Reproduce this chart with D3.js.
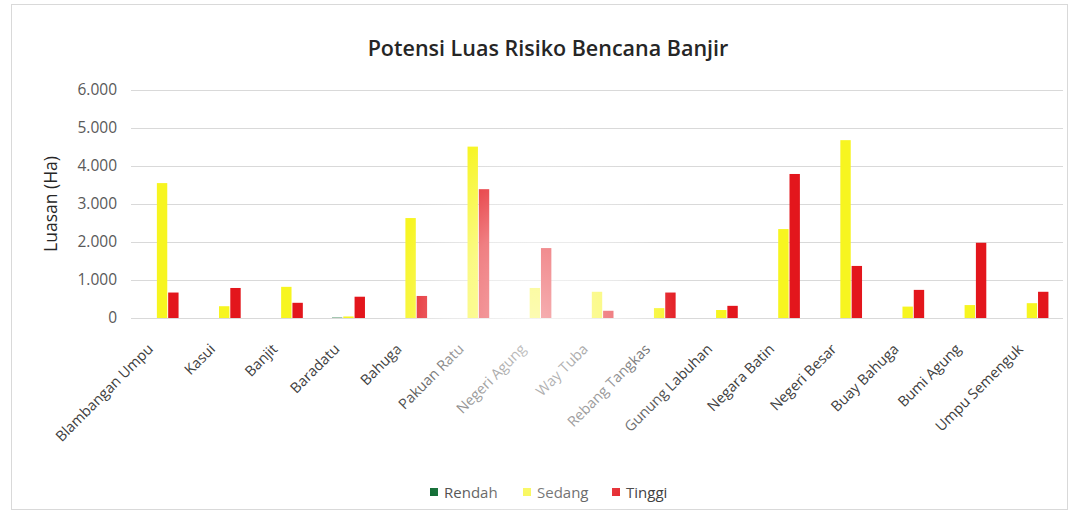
<!DOCTYPE html>
<html>
<head>
<meta charset="utf-8">
<script src="https://cdn.jsdelivr.net/npm/d3@7/dist/d3.min.js"></script>
<style>
  html, body { margin: 0; padding: 0; background: #fff; }
  svg { display: block; }
  svg text { font-family: "Open Sans", "Liberation Sans", sans-serif; }
</style>
</head>
<body>
<svg id="chart" width="1079" height="513"></svg>
<script>
// Kecamatan (districts)
const categories = [
  "Blambangan Umpu", "Kasui", "Banjit", "Baradatu", "Bahuga", "Pakuan Ratu",
  "Negeri Agung", "Way Tuba", "Rebang Tangkas", "Gunung Labuhan", "Negara Batin",
  "Negeri Besar", "Buay Bahuga", "Bumi Agung", "Umpu Semenguk"
];
// Risk classes
const seriesNames = ["Rendah", "Sedang", "Tinggi"];
// Area per class (Ha)
const rendah = [0, 0, 0, 10, 0, 0, 0, 0, 0, 0, 0, 0, 0, 0, 0];
const sedang = [3550, 310, 820, 40, 2630, 4510, 790, 690, 260, 210, 2340, 4680, 300, 340, 390];
const tinggi = [670, 790, 400, 560, 580, 3390, 1840, 190, 670, 320, 3790, 1370, 740, 1980, 690];
const yTicks = [0, 1000, 2000, 3000, 4000, 5000, 6000];

const colors = { Rendah: "#0e6b32", Sedang: "#f7f520", Tinggi: "#e3161c" };
const seriesValues = { Rendah: rendah, Sedang: sedang, Tinggi: tinggi };

const svg = d3.select("#chart");
const plot = { left: 131, right: 1063, top: 90, bottom: 318 };

// chart frame
svg.append("rect")
  .attr("x", 11.5).attr("y", 4.5).attr("width", 1056).attr("height", 505)
  .attr("fill", "#fff").attr("stroke", "#d9d9d9");

const x0 = d3.scaleBand().domain(categories).range([plot.left, plot.right]).paddingInner(0.44).paddingOuter(0.22);
const x1 = d3.scaleBand().domain(seriesNames).range([0, x0.bandwidth()]).padding(0.08);
const y = d3.scaleLinear().domain([0, 6000]).range([plot.bottom, plot.top]);

const fmt = v => v === 0 ? "0" : d3.format(",")(v).replace(/,/g, ".");

// gridlines
svg.append("g").selectAll("line").data(yTicks.filter(t => t > 0)).join("line")
  .attr("x1", plot.left).attr("x2", plot.right)
  .attr("y1", d => Math.round(y(d)) + 0.5).attr("y2", d => Math.round(y(d)) + 0.5)
  .attr("stroke", "#d9d9d9").attr("stroke-width", 1);

// y axis labels
const yAxis = d3.axisLeft(y).tickValues(yTicks).tickFormat(fmt).tickSize(0).tickPadding(0);
const gy = svg.append("g").attr("transform", `translate(${plot.left - 14},0)`).call(yAxis)
  .attr("font-family", null);
gy.select(".domain").remove();
gy.selectAll("text").attr("font-size", 15.5).attr("fill", "#595959");

// y axis title
svg.append("text")
  .attr("transform", `translate(57,204) rotate(-90)`)
  .attr("text-anchor", "middle").attr("font-size", 17.5).attr("fill", "#262626")
  .text("Luasan (Ha)");

// bars
const groups = svg.append("g").selectAll("g").data(categories).join("g")
  .attr("transform", d => `translate(${x0(d)},0)`);
groups.selectAll("rect")
  .data((d, i) => seriesNames.map(s => ({ s, v: seriesValues[s][i] })))
  .join("rect")
  .attr("x", d => x1(d.s)).attr("width", x1.bandwidth())
  .attr("y", d => y(d.v)).attr("height", d => y(0) - y(d.v))
  .attr("fill", d => colors[d.s]);

// baseline
svg.append("line")
  .attr("x1", plot.left).attr("x2", plot.right)
  .attr("y1", plot.bottom + 0.5).attr("y2", plot.bottom + 0.5)
  .attr("stroke", "#d9d9d9");

// x axis labels, rotated
const xAxis = d3.axisBottom(x0).tickSize(0).tickPadding(0);
const gx = svg.append("g").attr("transform", `translate(0,${plot.bottom})`).call(xAxis)
  .attr("font-family", null);
gx.select(".domain").remove();
gx.selectAll("text")
  .attr("font-size", 14.5).attr("fill", "#404040")
  .attr("text-anchor", "end")
  .attr("dy", 0).attr("y", 0).attr("x", 0)
  .attr("transform", "translate(-8,32) rotate(-45)");

// title
svg.append("text")
  .attr("x", 548).attr("y", 56).attr("text-anchor", "middle")
  .attr("font-size", 21.5).attr("font-weight", 600).attr("fill", "#262626")
  .text("Potensi Luas Risiko Bencana Banjir");

// legend
const legendX = [430, 523, 612];
const lg = svg.append("g").selectAll("g").data(seriesNames).join("g")
  .attr("transform", (d, i) => `translate(${legendX[i]},492)`);
lg.append("rect").attr("x", 0).attr("y", -4).attr("width", 8).attr("height", 8)
  .attr("fill", d => colors[d]);
lg.append("text").attr("x", 14).attr("y", 5.5).attr("font-size", 15).attr("fill", "#404040")
  .text(d => d);

// light glare across the middle of the sheet
const defs = svg.append("defs");
const glare = defs.append("radialGradient").attr("id", "glare")
  .attr("cx", "50%").attr("cy", "50%").attr("r", "50%");
glare.append("stop").attr("offset", "0%").attr("stop-color", "#fff").attr("stop-opacity", 0.7);
glare.append("stop").attr("offset", "55%").attr("stop-color", "#fff").attr("stop-opacity", 0.45);
glare.append("stop").attr("offset", "100%").attr("stop-color", "#fff").attr("stop-opacity", 0);
svg.append("ellipse")
  .attr("cx", 535).attr("cy", 340).attr("rx", 150).attr("ry", 220)
  .attr("fill", "url(#glare)").attr("pointer-events", "none");
</script>
</body>
</html>
